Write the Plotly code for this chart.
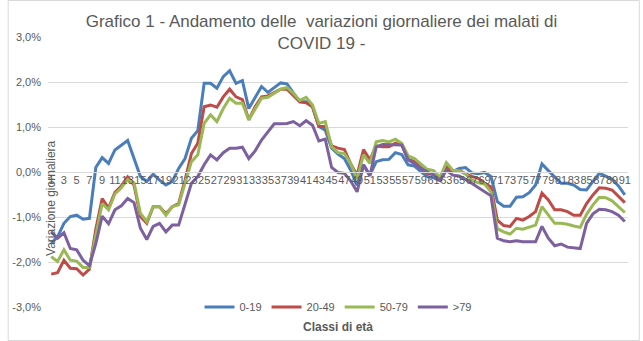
import plotly.graph_objects as go

categories = list(range(1, 92))
tick_labels = [str(c) for c in range(1, 92, 2)]

s_0_19 = [-1.58, -1.44, -1.14, -0.99, -0.96, -1.05, -1.03, 0.10, 0.32, 0.19,
          0.49, 0.60, 0.70, 0.30, -0.10, -0.21, -0.05, -0.18, -0.29, -0.21,
          0.08, 0.30, 0.75, 0.92, 1.97, 1.97, 1.86, 2.12, 2.25, 1.97,
          2.03, 1.41, 1.67, 1.90, 1.77, 1.88, 1.98, 1.96, 1.75, 1.56,
          1.56, 1.45, 1.01, 0.93, 0.53, 0.40, 0.30, 0.04, -0.30, 0.16,
          -0.07, 0.23, 0.27, 0.28, 0.43, 0.39, 0.16, 0.13, 0.01, -0.10,
          -0.13, -0.19, 0.04, 0.01, 0.08, 0.10, -0.02, -0.04, -0.01, -0.10,
          -0.66, -0.76, -0.76, -0.56, -0.55, -0.46, -0.29, 0.18, 0.03, -0.12,
          -0.25, -0.25, -0.29, -0.39, -0.40, -0.21, -0.03, -0.09, -0.16, -0.31,
          -0.51]
s_20_49 = [-2.27, -2.24, -1.96, -2.14, -2.15, -2.29, -2.16, -1.27, -0.59, -0.80,
           -0.45, -0.31, -0.11, -0.29, -0.99, -1.14, -0.77, -0.77, -0.93, -0.77,
           -0.70, -0.18, 0.41, 0.64, 1.45, 1.49, 1.44, 1.67, 1.84, 1.67,
           1.61, 1.16, 1.45, 1.67, 1.69, 1.76, 1.84, 1.84, 1.69, 1.56,
           1.54, 1.45, 1.01, 1.01, 0.58, 0.53, 0.50, 0.18, -0.07, 0.50,
           0.27, 0.58, 0.56, 0.56, 0.64, 0.60, 0.28, 0.23, 0.10, -0.03,
           -0.05, -0.18, 0.12, 0.01, 0.04, -0.04, -0.10, -0.14, -0.25, -0.33,
           -1.07, -1.19, -1.21, -1.03, -1.07, -0.99, -0.88, -0.47, -0.62, -0.84,
           -0.84, -0.88, -0.96, -0.96, -0.70, -0.51, -0.35, -0.36, -0.40, -0.53,
           -0.68]
s_50_79 = [-1.88, -1.99, -1.73, -1.96, -1.98, -2.12, -2.12, -1.44, -0.70, -0.84,
           -0.49, -0.35, -0.17, -0.24, -0.92, -1.10, -0.77, -0.77, -0.96, -0.77,
           -0.73, -0.25, 0.23, 0.38, 1.08, 1.27, 1.12, 1.41, 1.64, 1.53,
           1.53, 1.16, 1.41, 1.64, 1.66, 1.75, 1.84, 1.88, 1.75, 1.59,
           1.66, 1.49, 1.08, 1.12, 0.56, 0.43, 0.41, 0.19, -0.16, 0.38,
           0.19, 0.67, 0.70, 0.67, 0.73, 0.64, 0.36, 0.30, 0.17, 0.06,
           0.03, -0.12, 0.21, 0.04, 0.03, -0.04, -0.18, -0.24, -0.27, -0.44,
           -1.26, -1.33, -1.38, -1.25, -1.27, -1.23, -1.18, -0.77, -0.96, -1.14,
           -1.14, -1.16, -1.20, -1.23, -0.94, -0.73, -0.56, -0.57, -0.64, -0.76,
           -0.90]
s_over_79 = [-1.33, -1.47, -1.35, -1.70, -1.73, -1.96, -2.08, -1.59, -0.98, -1.15,
             -0.84, -0.75, -0.59, -0.68, -1.25, -1.50, -1.21, -1.14, -1.33, -1.18,
             -1.18, -0.70, -0.25, -0.10, 0.16, 0.38, 0.27, 0.43, 0.53, 0.53,
             0.55, 0.30, 0.47, 0.71, 0.90, 1.07, 1.07, 1.08, 1.12, 1.03,
             1.14, 1.04, 0.69, 0.73, 0.10, -0.01, -0.03, -0.20, -0.44, 0.16,
             -0.09, 0.56, 0.61, 0.61, 0.61, 0.60, 0.27, 0.19, 0.08, 0.01,
             -0.07, -0.18, 0.04, -0.07, -0.09, -0.16, -0.25, -0.34, -0.44, -0.53,
             -1.47, -1.53, -1.55, -1.53, -1.55, -1.55, -1.55, -1.21, -1.47, -1.64,
             -1.60, -1.67, -1.68, -1.70, -1.14, -0.93, -0.83, -0.84, -0.88, -0.96,
             -1.10]

series_names = ["0-19", "20-49", "50-79", ">79"]
series_values = [s_0_19, s_20_49, s_50_79, s_over_79]
series_colors = ["#4A7EBB", "#BE4B48", "#98B954", "#7D60A0"]

y_ticks = [-3, -2, -1, 0, 1, 2, 3]
y_tick_labels = ["-3,0%", "-2,0%", "-1,0%", "0,0%", "1,0%", "2,0%", "3,0%"]

FONT = "Liberation Sans, Arial, sans-serif"
GRAY = "#595959"
GRID = "#D9D9D9"

W, H = 643, 341
ML, MR, MT, MB = 41, 12, 37, 34
PW, PH = W - ML - MR, H - MT - MB

fig = go.Figure()
for name, vals, col in zip(series_names, series_values, series_colors):
    fig.add_trace(go.Scatter(x=categories, y=vals, name=name, mode="lines",
                             line=dict(color=col, width=3)))

fig.update_layout(
    width=W, height=H,
    margin=dict(l=ML, r=MR, t=MT, b=MB),
    paper_bgcolor="white", plot_bgcolor="white",
    font=dict(family=FONT, color=GRAY, size=11),
    title=dict(text="Grafico 1 - Andamento delle  variazioni giornaliere dei malati di<br>COVID 19 -",
               x=0.5, xanchor="center", y=1 - 27 / H, yanchor="middle",
               font=dict(family=FONT, size=17, color=GRAY)),
    xaxis=dict(range=[0.5, 91.5], tickmode="array",
               tickvals=list(range(1, 92, 2)), ticktext=tick_labels,
               anchor="free", position=0.5, showline=True, linecolor=GRID,
               linewidth=1, showgrid=False, zeroline=False, ticks="",
               tickangle=0, ticklabelstandoff=-2,
               tickfont=dict(size=11, color=GRAY, family=FONT)),
    yaxis=dict(range=[-3, 3], tickmode="array", tickvals=y_ticks,
               ticktext=y_tick_labels, showgrid=True, gridcolor=GRID,
               gridwidth=1, zeroline=False, showline=False, ticks="",
               ticklabelstandoff=6,
               tickfont=dict(size=11, color=GRAY, family=FONT)),
    legend=dict(orientation="h", x=0.5, xanchor="center", y=0.0, yanchor="middle",
                bgcolor="white", font=dict(size=11, color=GRAY, family=FONT),
                itemwidth=30, tracegroupgap=0),
    showlegend=True,
)

fig.add_annotation(text="Variazione giornaliera", xref="paper", yref="paper",
                   x=(44 - ML) / PW, y=(H - MB - 198) / PH, textangle=-90,
                   showarrow=False, xanchor="center", yanchor="middle",
                   font=dict(size=12, color=GRAY, family=FONT))
fig.add_annotation(text="<b>Classi di età</b>", xref="paper", yref="paper",
                   x=0.5, y=(H - MB - 327) / PH, showarrow=False,
                   xanchor="center", yanchor="middle",
                   font=dict(size=12, color=GRAY, family=FONT))
fig.add_shape(type="rect", xref="paper", yref="paper",
              x0=(0.5 - ML) / PW, x1=(W - 0.5 - ML) / PW,
              y0=(H - MB - (H - 0.5)) / PH, y1=(H - MB - 0.5) / PH,
              line=dict(color=GRID, width=1), fillcolor="rgba(0,0,0,0)", layer="below")

fig.write_html("out.html")
